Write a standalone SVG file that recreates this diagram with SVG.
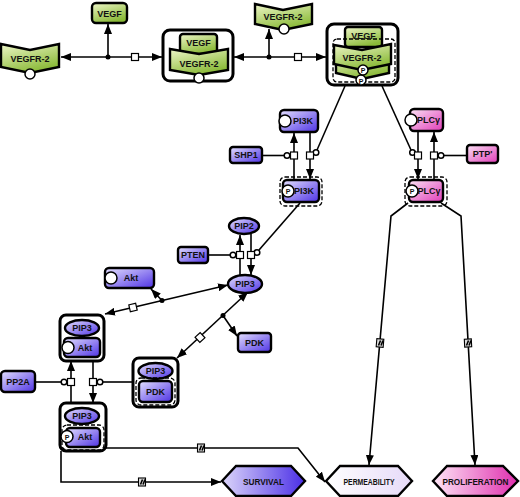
<svg xmlns="http://www.w3.org/2000/svg" width="520" height="497" viewBox="0 0 520 497">
<defs>
<linearGradient id="gG" x1="0" y1="0" x2="0.5" y2="1"><stop offset="0" stop-color="#eef6c8"/><stop offset="1" stop-color="#8aba38"/></linearGradient>
<linearGradient id="gB" x1="0" y1="0" x2="1" y2="1"><stop offset="0" stop-color="#e4e0ff"/><stop offset="1" stop-color="#4e32e4"/></linearGradient>
<linearGradient id="gP" x1="0" y1="0" x2="1" y2="1"><stop offset="0" stop-color="#fbe2f5"/><stop offset="1" stop-color="#e03cb8"/></linearGradient>
<linearGradient id="gS" x1="0" y1="0" x2="1" y2="0"><stop offset="0" stop-color="#dcd6fa"/><stop offset="1" stop-color="#4a2ee6"/></linearGradient>
<linearGradient id="gPe" x1="0" y1="0" x2="1" y2="0"><stop offset="0" stop-color="#ffffff"/><stop offset="1" stop-color="#e6daf8"/></linearGradient>
<linearGradient id="gPr" x1="0" y1="0" x2="1" y2="0"><stop offset="0" stop-color="#fde6f6"/><stop offset="1" stop-color="#e02eae"/></linearGradient>
<marker id="ar" markerUnits="userSpaceOnUse" markerWidth="10" markerHeight="8" viewBox="0 0 10 8" refX="10" refY="4" orient="auto-start-reverse"><path d="M0,0 L10,4 L0,8 z" fill="#000"/></marker>
</defs>
<style>
.n{stroke:#000;stroke-width:2.4}
.g{fill:url(#gG)}
.b{fill:url(#gB)}
.p{fill:url(#gP)}
.cx{fill:#fff;stroke:#000;stroke-width:3}
.d{fill:none;stroke:#000;stroke-width:1.3;stroke-dasharray:4 2}
.ci{fill:#fff;stroke:#000;stroke-width:1.5}
.ln{fill:none;stroke:#000;stroke-width:1.6}
.sq{fill:#fff;stroke:#000;stroke-width:1.2}
.om{fill:#ddd;stroke:#000;stroke-width:1.1}
.dot{fill:#000}
.t{font-family:"Liberation Sans",Arial,sans-serif;font-weight:bold;font-size:9px;text-anchor:middle;dominant-baseline:central;fill:#111}
.ts{font-family:"Liberation Sans",Arial,sans-serif;font-weight:bold;font-size:7px;text-anchor:middle;dominant-baseline:central;fill:#111}
</style>

<g id="connectors">
  <path class="ln" d="M61,57 L162,57" marker-start="url(#ar)" marker-end="url(#ar)"/>
  <path class="ln" d="M108,57 L108,24" marker-end="url(#ar)"/>
  <circle class="dot" cx="108" cy="57" r="2.5"/>
  <rect class="sq" x="131.5" y="53.5" width="7" height="7"/>
  <path class="ln" d="M234,57 L326,57" marker-start="url(#ar)" marker-end="url(#ar)"/>
  <path class="ln" d="M269,57 L269,29" marker-end="url(#ar)"/>
  <circle class="dot" cx="269" cy="57" r="2.5"/>
  <rect class="sq" x="294.5" y="53.5" width="7" height="7"/>
  <path class="ln" d="M345,86 L317,150"/>
  <circle class="ci" cx="316" cy="152.5" r="2.8"/>
  <path class="ln" d="M294,180 L294,133" marker-end="url(#ar)"/>
  <path class="ln" d="M310,132 L310,179" marker-end="url(#ar)"/>
  <rect class="sq" x="290.5" y="152" width="7" height="7"/>
  <rect class="sq" x="306.5" y="152" width="7" height="7"/>
  <path class="ln" d="M262,155.5 L284,155.5"/>
  <circle class="ci" cx="287" cy="155.5" r="2.8"/>
  <path class="ln" d="M382,86 L411,150"/>
  <circle class="ci" cx="412.5" cy="152.5" r="2.8"/>
  <path class="ln" d="M418,131 L418,179" marker-end="url(#ar)"/>
  <path class="ln" d="M434,180 L434,132" marker-end="url(#ar)"/>
  <rect class="sq" x="414.5" y="152" width="7" height="7"/>
  <rect class="sq" x="430.5" y="152" width="7" height="7"/>
  <path class="ln" d="M467,155.5 L444,155.5"/>
  <circle class="ci" cx="441" cy="155.5" r="2.8"/>
  <path class="ln" d="M300,203 L259,250"/>
  <circle class="ci" cx="257" cy="252.5" r="2.8"/>
  <path class="ln" d="M240,275 L240,235" marker-end="url(#ar)"/>
  <path class="ln" d="M251,234 L251,275" marker-end="url(#ar)"/>
  <rect class="sq" x="236.5" y="251.5" width="7" height="7"/>
  <rect class="sq" x="247.5" y="251.5" width="7" height="7"/>
  <path class="ln" d="M208,255 L230,255"/>
  <circle class="ci" cx="233" cy="255" r="2.8"/>
  <path class="ln" d="M228,285 L105,314" marker-start="url(#ar)" marker-end="url(#ar)"/>
  <path class="ln" d="M162,300.5 L151,289" marker-end="url(#ar)"/>
  <circle class="dot" cx="162" cy="300.5" r="2.5"/>
  <rect class="sq" x="129.5" y="304" width="7" height="7" transform="rotate(-13 133 307.5)"/>
  <path class="ln" d="M248,292 L177,358" marker-start="url(#ar)" marker-end="url(#ar)"/>
  <path class="ln" d="M223,315.5 L237,336" marker-end="url(#ar)"/>
  <circle class="dot" cx="223" cy="315.5" r="2.5"/>
  <rect class="sq" x="196.5" y="334" width="7" height="7" transform="rotate(-43 200 337.5)"/>
  <path class="ln" d="M71,403 L71,361" marker-end="url(#ar)"/>
  <path class="ln" d="M93,361 L93,403" marker-end="url(#ar)"/>
  <rect class="sq" x="67.5" y="378.5" width="7" height="7"/>
  <rect class="sq" x="89.5" y="378.5" width="7" height="7"/>
  <path class="ln" d="M35,382 L61,382"/>
  <circle class="ci" cx="64" cy="382" r="2.8"/>
  <path class="ln" d="M103,382 L133,382"/>
  <circle class="ci" cx="100" cy="382" r="2.8"/>
  <path class="ln" d="M106,448 L298,448 L325,482" marker-end="url(#ar)"/>
  <rect class="om" x="197.5" y="444" width="7" height="8"/>
  <path class="ln" d="M199.5,450.5 L201.5,445.5 M202,450.5 L204,445.5" stroke-width="0.9"/>
  <path class="ln" d="M61,451 L61,482 L221,482" marker-end="url(#ar)"/>
  <rect class="om" x="138.5" y="478" width="7" height="8"/>
  <path class="ln" d="M140.5,484.5 L142.5,479.5 M143,484.5 L145,479.5" stroke-width="0.9"/>
  <path class="ln" d="M408,203 L391,216 L369,465" marker-end="url(#ar)"/>
  <rect class="om" x="376.5" y="339" width="7" height="8" transform="rotate(5 380 343)"/>
  <path class="ln" d="M378.5,345.5 L380.5,340.5 M381,345.5 L383,340.5" stroke-width="0.9"/>
  <path class="ln" d="M441,203 L461,216 L475,465" marker-end="url(#ar)"/>
  <rect class="om" x="464.5" y="339" width="7" height="8" transform="rotate(-3 468 343)"/>
  <path class="ln" d="M466.5,345.5 L468.5,340.5 M469,345.5 L471,340.5" stroke-width="0.9"/>
</g>

<g id="VEGFR2_left">
  <path class="n g" d="M1,44 L30,50 L59,44 L59,67 L30,73 L1,67 Z"/>
  <circle class="ci" cx="30" cy="74" r="5"/>
  <text class="t" x="30" y="59">VEGFR-2</text>
</g>
<g id="VEGF_top">
  <rect class="n g" x="92" y="3" width="35" height="20" rx="4"/>
  <text class="t" x="109.5" y="13.5">VEGF</text>
</g>
<g id="complex_VEGF_VEGFR2">
  <rect class="cx" x="163" y="30" width="70" height="51" rx="7"/>
  <rect class="n g" x="180" y="34" width="37" height="20" rx="3"/>
  <text class="t" x="198.5" y="43">VEGF</text>
  <path class="n g" d="M170,49 L199,54 L228,49 L228,70 L199,75 L170,70 Z"/>
  <circle class="ci" cx="199" cy="78" r="5"/>
  <text class="t" x="199" y="63.5">VEGFR-2</text>
</g>
<g id="VEGFR2_top">
  <path class="n g" d="M255,4 L283,10 L312,4 L312,24 L283,30 L255,24 Z"/>
  <circle class="ci" cx="284" cy="29" r="5"/>
  <text class="t" x="283" y="17">VEGFR-2</text>
</g>
<g id="complex_VEGF_VEGFR2_P">
  <rect class="cx" x="327" y="24" width="71" height="61" rx="7"/>
  <rect class="n g" x="345" y="27" width="37" height="20" rx="3"/>
  <rect class="d" x="333" y="39" width="62" height="43" rx="4"/>
  <text class="t" x="363.5" y="35.5">VEGF</text>
  <path class="n g" d="M336,53 L362,58 L389,52 L389,73 L362,79 L336,73 Z"/>
  <circle class="ci" cx="361" cy="80" r="5"/>
  <text class="ts" x="361" y="81">P</text>
  <path class="n g" d="M334,45 L362,50 L391,44 L391,64 L362,70 L334,64 Z"/>
  <circle class="ci" cx="363" cy="70" r="5"/>
  <text class="ts" x="363" y="70.5">P</text>
  <text class="t" x="362" y="58">VEGFR-2</text>
</g>
<g id="PI3K">
  <rect class="n b" x="280" y="110" width="38" height="22" rx="4"/>
  <circle class="ci" cx="285" cy="121" r="6"/>
  <text class="t" x="303" y="121">PI3K</text>
</g>
<g id="SHP1">
  <rect class="n b" x="230" y="147" width="32" height="16" rx="3"/>
  <text class="t" x="246" y="155">SHP1</text>
</g>
<g id="PI3K_P">
  <rect class="d" x="280" y="177" width="42" height="29" rx="5"/>
  <rect class="n b" x="283" y="180" width="36" height="22" rx="4"/>
  <circle class="ci" cx="288" cy="191" r="6"/>
  <text class="ts" x="288" y="191.5">P</text>
  <text class="t" x="304" y="191">PI3K</text>
</g>
<g id="PLCg">
  <rect class="n p" x="410" y="109" width="33" height="22" rx="4"/>
  <circle class="ci" cx="411" cy="120" r="6"/>
  <text class="t" x="428.5" y="120">PLCγ</text>
</g>
<g id="PTP">
  <rect class="n p" x="467" y="145" width="31" height="18" rx="3"/>
  <text class="t" x="482.5" y="154">PTP'</text>
</g>
<g id="PLCg_P">
  <rect class="d" x="405" y="177" width="42" height="29" rx="5"/>
  <rect class="n p" x="409" y="180" width="34" height="22" rx="4"/>
  <circle class="ci" cx="412" cy="191" r="6"/>
  <text class="ts" x="412" y="191.5">P</text>
  <text class="t" x="429" y="191">PLCγ</text>
</g>
<g id="PIP2">
  <ellipse class="n b" cx="244" cy="226" rx="15" ry="8"/>
  <text class="t" x="244" y="226">PIP2</text>
</g>
<g id="PTEN">
  <rect class="n b" x="178" y="247" width="30" height="16" rx="3"/>
  <text class="t" x="193" y="255">PTEN</text>
</g>
<g id="PIP3">
  <ellipse class="n b" cx="245" cy="284" rx="17" ry="9"/>
  <text class="t" x="245" y="284">PIP3</text>
</g>
<g id="Akt">
  <rect class="n b" x="105" y="268" width="49" height="20" rx="4"/>
  <circle class="ci" cx="111" cy="278" r="6"/>
  <text class="t" x="131" y="278">Akt</text>
</g>
<g id="PDK">
  <rect class="n b" x="238" y="333" width="33" height="19" rx="3"/>
  <text class="t" x="254.5" y="342.5">PDK</text>
</g>
<g id="complex_PIP3_Akt">
  <rect class="cx" x="60" y="315" width="44" height="46" rx="6"/>
  <ellipse class="n b" cx="82" cy="328" rx="17" ry="8"/>
  <text class="t" x="82" y="328">PIP3</text>
  <rect class="n b" x="64" y="338" width="36" height="19" rx="4"/>
  <circle class="ci" cx="68" cy="347.5" r="6"/>
  <text class="t" x="85" y="347.5">Akt</text>
</g>
<g id="complex_PIP3_PDK">
  <rect class="cx" x="133" y="358" width="45" height="49" rx="6"/>
  <ellipse class="n b" cx="155.5" cy="371" rx="17" ry="8"/>
  <text class="t" x="155.5" y="371">PIP3</text>
  <rect class="d" x="136" y="378" width="39" height="27" rx="5"/>
  <rect class="n b" x="139" y="381" width="33" height="21" rx="4"/>
  <text class="t" x="155.5" y="391.5">PDK</text>
</g>
<g id="PP2A">
  <rect class="n b" x="1" y="371" width="34" height="21" rx="4"/>
  <text class="t" x="18" y="381.5">PP2A</text>
</g>
<g id="complex_PIP3_AktP">
  <rect class="cx" x="60" y="403" width="46" height="48" rx="6"/>
  <ellipse class="n b" cx="82" cy="416" rx="17" ry="8"/>
  <text class="t" x="82" y="416">PIP3</text>
  <rect class="d" x="62" y="425" width="42" height="25" rx="5"/>
  <rect class="n b" x="66" y="428" width="34" height="19" rx="4"/>
  <circle class="ci" cx="67" cy="436.5" r="6"/>
  <text class="ts" x="67" y="437">P</text>
  <text class="t" x="85" y="437">Akt</text>
</g>
<g id="SURVIVAL">
  <path class="n" fill="url(#gS)" d="M222,481 L236,466 L291,466 L305,481 L291,496 L236,496 Z"/>
  <text class="t" x="263.5" y="481.5" font-size="9" textLength="41" lengthAdjust="spacingAndGlyphs">SURVIVAL</text>
</g>
<g id="PERMEABILITY">
  <path class="n" fill="url(#gPe)" d="M326,481 L340,466 L398,466 L412,481 L398,496 L340,496 Z"/>
  <text class="t" x="369" y="481.5" font-size="9" textLength="51" lengthAdjust="spacingAndGlyphs">PERMEABILITY</text>
</g>
<g id="PROLIFERATION">
  <path class="n" fill="url(#gPr)" d="M433,481 L447,466 L503,466 L518,481 L503,496 L447,496 Z"/>
  <text class="t" x="475.5" y="481.5" font-size="9" textLength="66" lengthAdjust="spacingAndGlyphs">PROLIFERATION</text>
</g>
</svg>
